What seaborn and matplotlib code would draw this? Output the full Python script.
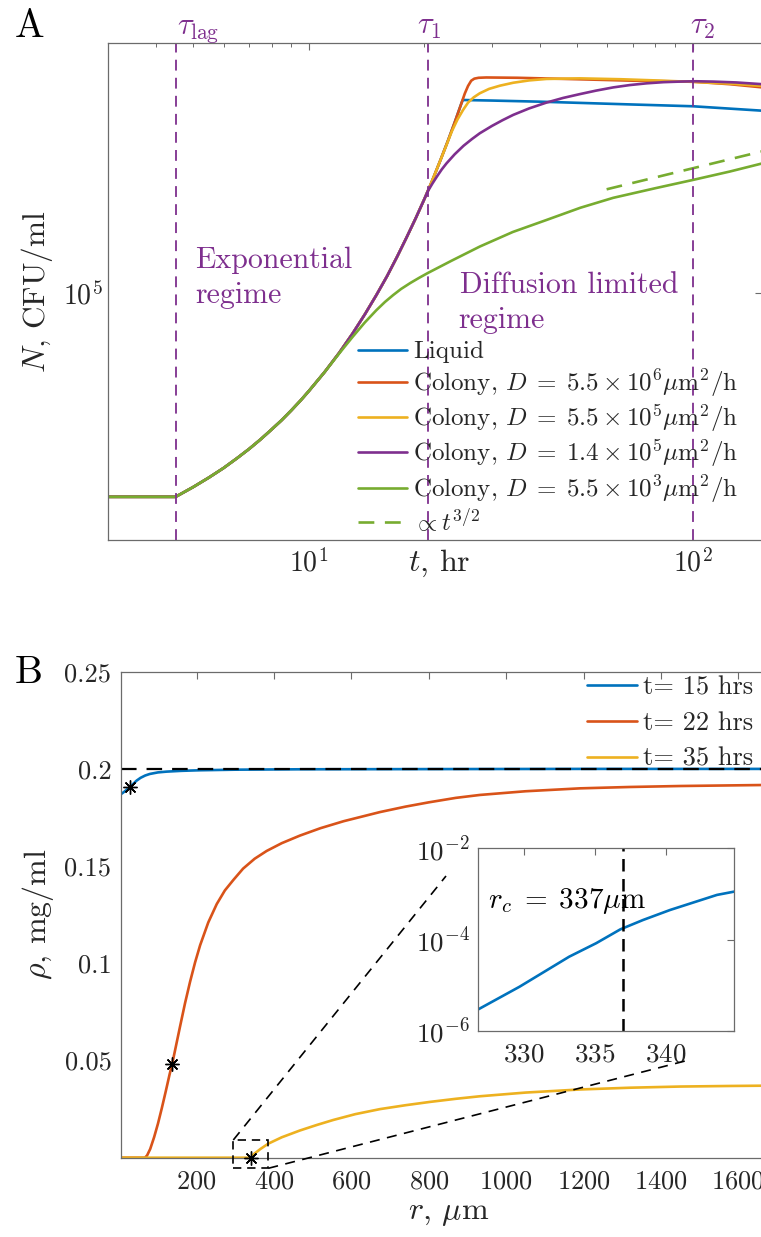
import matplotlib
matplotlib.use("Agg")
import matplotlib.pyplot as plt
from matplotlib.lines import Line2D
from matplotlib.patches import Rectangle
from matplotlib.ticker import NullLocator, NullFormatter
import seaborn as sns

# ---------------- panel A : N (CFU/ml) vs t (hr) ----------------
# lag + exponential part shared by all curves
t_early = [3, 4.5, 5, 5.5, 6, 6.5, 7, 7.5, 8, 8.5, 9, 9.5, 10, 11]
N_early = [2.00e4, 2.00e4, 2.16e4, 2.33e4, 2.51e4, 2.71e4, 2.92e4, 3.15e4, 3.40e4, 3.66e4,
           3.95e4, 4.26e4, 4.60e4, 5.35e4]
t_exp = [12, 13, 14, 15, 16, 17, 18, 19, 20, 20.4]
N_exp = [6.22e4, 7.24e4, 8.43e4, 9.81e4, 1.14e5, 1.33e5, 1.55e5, 1.80e5, 2.09e5, 2.22e5]

t_liquid = [21, 22, 23, 24, 25, 25.2, 30, 40, 50, 70, 100, 152]
N_liquid = [2.43e5, 2.83e5, 3.29e5, 3.83e5, 4.46e5, 4.57e5, 4.55e5, 4.51e5, 4.47e5, 4.41e5,
            4.35e5, 4.20e5]

t_d1 = [21, 22, 23, 24, 25, 25.5, 26, 26.5, 27, 27.7, 29, 35, 50, 70, 100, 125, 152]
N_d1 = [2.43e5, 2.83e5, 3.29e5, 3.83e5, 4.46e5, 4.81e5, 5.105e5, 5.321e5, 5.408e5, 5.445e5,
        5.458e5, 5.445e5, 5.383e5, 5.321e5, 5.280e5, 5.176e5, 5.047e5]

t_d2 = [21, 22, 22.8, 23.6, 24.4, 25.24, 26, 26.9, 27.9, 29.5, 31.5, 34.1, 37.5, 41.6, 50.8,
        65, 80, 100, 125, 152]
N_d2 = [2.43e5, 2.83e5, 3.184e5, 3.573e5, 3.917e5, 4.227e5, 4.477e5, 4.667e5, 4.819e5,
        4.989e5, 5.117e5, 5.236e5, 5.333e5, 5.395e5, 5.420e5, 5.383e5, 5.333e5, 5.272e5,
        5.200e5, 5.105e5]

t_d3 = [21, 21.6, 22.2, 22.85, 24, 25.3, 26.6, 27.9, 30, 32, 34.1, 37.5, 41.6, 46, 50.8, 56,
        62.1, 68.5, 75.9, 84, 92.7, 102, 113, 130, 152]
N_d3 = [2.366e5, 2.506e5, 2.642e5, 2.773e5, 2.979e5, 3.184e5, 3.357e5, 3.516e5, 3.724e5,
        3.899e5, 4.064e5, 4.276e5, 4.477e5, 4.645e5, 4.786e5, 4.920e5, 5.047e5, 5.140e5,
        5.212e5, 5.260e5, 5.284e5, 5.297e5, 5.284e5, 5.248e5, 5.176e5]

t_d4 = [12, 13, 14, 15, 15.8, 16.6, 17.4, 18.4, 19.4, 20.4, 23.5, 27.9, 34, 41.6, 51, 62.1, 80,
        100, 125, 152]
N_d4 = [6.19e4, 7.05e4, 7.91e4, 8.71e4, 9.30e4, 9.82e4, 1.030e5, 1.080e5, 1.125e5, 1.167e5,
        1.285e5, 1.439e5, 1.614e5, 1.774e5, 1.954e5, 2.113e5, 2.280e5, 2.432e5, 2.600e5, 2.773e5]

t_fit = [59.7, 152]
N_fit = [2.26e5, 3.05e5]

tau_lag, tau_1, tau_2 = 4.5, 20.4, 100

labels_A = ["Liquid",
            r"Colony, $D\;=\;5.5\times10^{6}\mu\mathrm{m}^2/\mathrm{h}$",
            r"Colony, $D\;=\;5.5\times10^{5}\mu\mathrm{m}^2/\mathrm{h}$",
            r"Colony, $D\;=\;1.4\times10^{5}\mu\mathrm{m}^2/\mathrm{h}$",
            r"Colony, $D\;=\;5.5\times10^{3}\mu\mathrm{m}^2/\mathrm{h}$",
            r"$\propto t^{3/2}$"]

# ---------------- panel B : rho (mg/ml) vs r (um) ----------------
r_15 = [5, 10, 15, 20, 27.6, 35, 45, 55, 67, 79, 100, 122.5, 160, 208.6, 300, 467, 800, 1200, 1700]
rho_15 = [0.1871, 0.1878, 0.1886, 0.1894, 0.1905, 0.1921, 0.1940, 0.1954, 0.1966, 0.1974,
          0.1982, 0.1986, 0.1990, 0.1993, 0.1996, 0.1998, 0.1999, 0.2, 0.2]

r_22 = [5, 66.4, 72, 80, 90, 100, 110, 120, 130, 137, 145, 157, 170, 183, 196, 209, 230, 252,
        273, 295, 320, 350, 381, 420, 467, 520, 580, 674, 740, 800, 870, 932, 1050, 1191, 1320,
        1450, 1700]
rho_22 = [0, 0, 0.0012, 0.0045, 0.0105, 0.0175, 0.0255, 0.0340, 0.0428, 0.0484, 0.0560, 0.0674,
          0.0795, 0.0905, 0.1005, 0.1093, 0.1210, 0.1305, 0.1375, 0.1429, 0.1487, 0.1538, 0.1578,
          0.1618, 0.1657, 0.1695, 0.1731, 0.1778, 0.1806, 0.1828, 0.1851, 0.1866, 0.1885, 0.1900,
          0.1907, 0.1912, 0.1918]

r_35 = [5, 339.7, 350, 365, 385, 420, 467, 510, 553, 610, 674, 740, 803, 870, 932, 1050, 1191,
        1320, 1449, 1580, 1700]
rho_35 = [0, 0, 0.0022, 0.0045, 0.0072, 0.0105, 0.0140, 0.0168, 0.0194, 0.0224, 0.0250, 0.0270,
          0.0287, 0.0303, 0.0316, 0.0335, 0.0351, 0.0360, 0.0366, 0.0369, 0.0371]

star_r = [27.6, 137, 339.7]
star_rho = [0.1905, 0.0484, 0.0]
rho_max = 0.2

# inset (t = 35 hrs near the front, log scale)
r_in = [326.8, 329.7, 333.2, 335.1, 336.8, 338.4, 340.3, 343.6, 344.8]
rho_in = [2.94e-6, 9.2e-6, 4.2e-5, 8.3e-5, 1.67e-4, 2.68e-4, 4.44e-4, 9.5e-4, 1.12e-3]
r_c = 337

labels_B = ["t= 15 hrs", "t= 22 hrs", "t= 35 hrs"]

# ---------------- style ----------------
sns.set_style("white")
plt.rcParams["font.family"] = ["cmr10", "DejaVu Serif"]
plt.rcParams["mathtext.fontset"] = "cm"
plt.rcParams["axes.formatter.use_mathtext"] = True
plt.rcParams["axes.unicode_minus"] = False

blue, red, yellow, purple, green = "#0072BD", "#D95319", "#EDB120", "#7E2F8E", "#77AC30"
spine_c = "#6b6b6b"
text_c = "#262626"
lw = 1.9

W, H = 761, 1237
fig = plt.figure(figsize=(W / 100, H / 100), dpi=100)


def frac(px, py):
    return px / W, 1 - py / H


def style_axes(ax, size):
    for s in ax.spines.values():
        s.set_color(spine_c)
        s.set_linewidth(0.9)
    ax.tick_params(which="both", direction="in", top=True, right=True,
                   colors=spine_c, labelcolor=text_c, labelsize=size)
    ax.tick_params(which="major", length=5, width=0.8)
    ax.tick_params(which="minor", length=3, width=0.7)


# ===== panel A =====
axA = fig.add_axes([108 / W, 1 - 540 / H, (762 - 108) / W, (540 - 43) / H])
axA.set_xscale("log")
axA.set_yscale("log")

curves = [
    (t_early + t_exp + t_liquid, N_early + N_exp + N_liquid, blue),
    (t_early + t_exp + t_d1, N_early + N_exp + N_d1, red),
    (t_early + t_exp + t_d2, N_early + N_exp + N_d2, yellow),
    (t_early + t_exp + t_d3, N_early + N_exp + N_d3, purple),
    (t_early + t_d4, N_early + N_d4, green),
]
for (tt, nn, c), lab in zip(curves, labels_A[:5]):
    sns.lineplot(x=tt, y=nn, ax=axA, color=c, lw=lw, sort=False, estimator=None, label=lab)
sns.lineplot(x=t_fit, y=N_fit, ax=axA, color=green, lw=lw, sort=False, estimator=None,
             label=labels_A[5])
axA.lines[-1].set_dashes([6, 4])

for tau in (tau_lag, tau_1, tau_2):
    axA.axvline(tau, color=purple, lw=1.3, dashes=(6, 4))

axA.set_xlim(3, 151.6)
axA.set_ylim(1.423e4, 7.163e5)
axA.yaxis.set_minor_locator(NullLocator())
axA.xaxis.set_minor_formatter(NullFormatter())
style_axes(axA, 20)
axA.tick_params(axis="x", which="major", pad=6)

axA.set_ylabel(r"$N$, CFU/ml", fontsize=22.5, color=text_c, labelpad=6)
axA.set_xlabel(r"$t$, hr", fontsize=23, color=text_c)
axA.xaxis.set_label_coords(0.506, -0.015)

axA.legend(loc="upper left", bbox_to_anchor=frac(358, 341), bbox_transform=fig.transFigure,
           frameon=False, fontsize=18, handlelength=1.95, handletextpad=0.25,
           labelspacing=0.14, borderpad=0, borderaxespad=0)

ann = dict(color=purple, fontsize=21.5, transform=axA.transAxes, va="baseline", ha="left")
axA.text((195 - 108) / 654, (540 - 268.3) / 497, "Exponential", **ann)
axA.text((195 - 108) / 654, (540 - 303.3) / 497, "regime", **ann)
axA.text((460 - 108) / 654, (540 - 293.3) / 497, "Diffusion limited", **ann)
axA.text((458 - 108) / 654, (540 - 328) / 497, "regime", **ann)

tau_kw = dict(color=purple, fontsize=22, va="baseline", ha="left")
fig.text(*frac(176.7, 34), r"$\tau_{\mathrm{lag}}$", **tau_kw)
fig.text(*frac(416.7, 34), r"$\tau_1$", **tau_kw)
fig.text(*frac(690, 34), r"$\tau_2$", **tau_kw)

fig.text(*frac(15, 36.7), "A", fontsize=28.5, va="baseline", color="black")
fig.text(*frac(15, 683), "B", fontsize=28.5, va="baseline", color="black")

# ===== panel B =====
axB = fig.add_axes([121.2 / W, 1 - 1157.7 / H, (777 - 121.2) / W, (1157.7 - 671.7) / H])
for rr, pp, c, lab in [(r_15, rho_15, blue, labels_B[0]), (r_22, rho_22, red, labels_B[1]),
                       (r_35, rho_35, yellow, labels_B[2])]:
    sns.lineplot(x=rr, y=pp, ax=axB, color=c, lw=lw, sort=False, estimator=None, label=lab)
axB.axhline(rho_max, color="black", lw=1.6, dashes=(7, 4.5))
axB.plot(star_r, star_rho, ls="none", marker=(8, 2, 0), ms=10, mec="black", mew=1.0,
         clip_on=False, zorder=5)

axB.set_xlim(5, 1700)
axB.set_ylim(0, 0.25)
axB.set_xticks([200, 400, 600, 800, 1000, 1200, 1400, 1600])
axB.set_yticks([0.05, 0.1, 0.15, 0.2, 0.25], ["0.05", "0.1", "0.15", "0.2", "0.25"])
style_axes(axB, 19)
axB.tick_params(axis="x", pad=9)
axB.tick_params(axis="y", pad=7)
axB.set_xlabel(r"$r$, $\mu$m", fontsize=23, color=text_c, labelpad=5)
axB.set_ylabel(r"$\rho$, mg/ml", fontsize=23, color=text_c, labelpad=6)

axB.legend(loc="upper left", bbox_to_anchor=frac(586.7, 676), bbox_transform=fig.transFigure,
           frameon=False, fontsize=19, handlelength=1.9, handletextpad=0.24,
           labelspacing=0.45, borderpad=0, borderaxespad=0)

# zoom box and connectors
axB.add_patch(Rectangle((294.7, -0.0055), 90.3, 0.0146, fill=False, ec="black", lw=1.2,
                        ls=(0, (5, 3.5)), clip_on=False, zorder=4))
for (x0, y0), (x1, y1) in [((233.3, 1140), (446, 876)), ((268.3, 1168.3), (691.7, 1059.3))]:
    fig.add_artist(Line2D([x0 / W, x1 / W], [1 - y0 / H, 1 - y1 / H], color="black",
                          lw=1.2, dashes=(6, 4.5)))

# ===== inset =====
axI = fig.add_axes([478.3 / W, 1 - 1030.7 / H, (734 - 478.3) / W, (1030.7 - 848.3) / H])
axI.set_yscale("log")
sns.lineplot(x=r_in, y=rho_in, ax=axI, color=blue, lw=lw, sort=False, estimator=None)
axI.axvline(r_c, color="black", lw=1.8, dashes=(5, 3))
axI.set_xlim(326.8, 344.8)
axI.set_ylim(1e-6, 1e-2)
axI.set_xticks([330, 335, 340])
axI.set_yticks([1e-6, 1e-4, 1e-2])
axI.yaxis.set_minor_locator(NullLocator())
style_axes(axI, 19.5)
axI.tick_params(axis="x", pad=9)
axI.tick_params(axis="y", pad=6)
axI.text(0.038, 0.671, r"$r_c\;=\;337\mu$m", transform=axI.transAxes, fontsize=21,
         va="baseline", ha="left", color="black")

fig.savefig("out.png", dpi=100)
